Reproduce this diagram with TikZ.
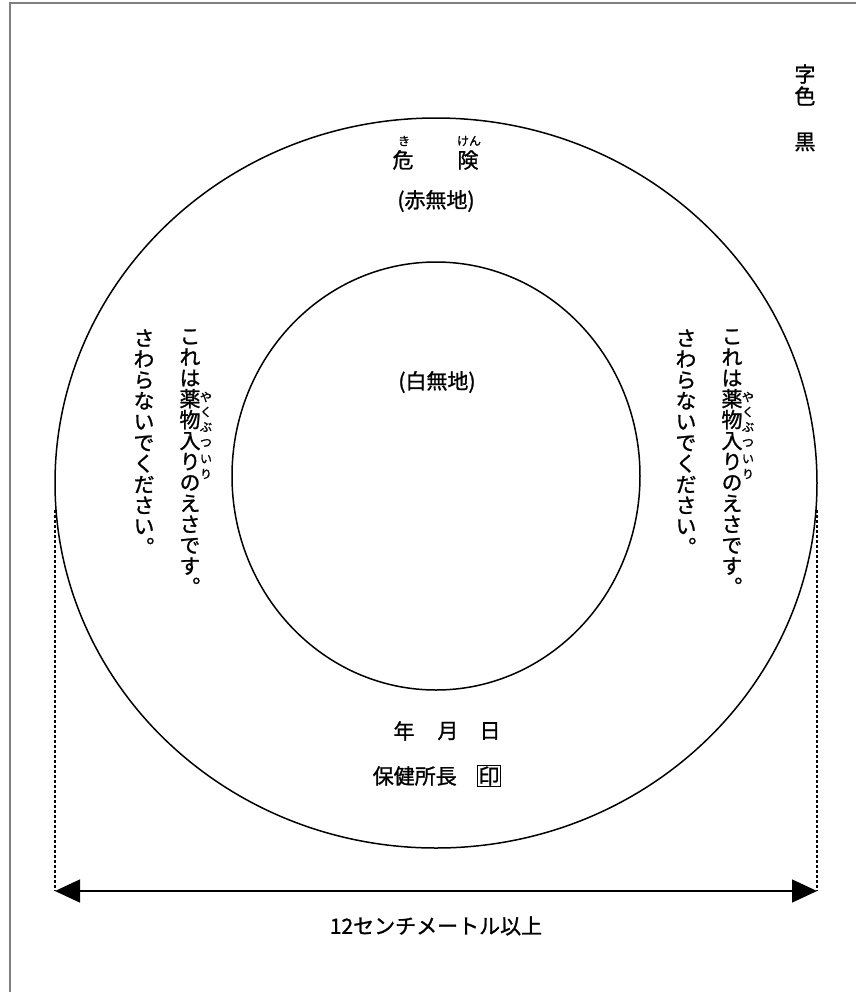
\documentclass[tikz,border=0pt]{standalone}
\usepackage{fontspec}
\setmainfont[FakeBold=1.2]{Noto Sans CJK JP}
\newfontfamily\tatefont[RawFeature=+vert,FakeBold=1.2]{Noto Sans CJK JP}
\usetikzlibrary{arrows.meta}
\tikzset{
  moji/.style={font=\fontsize{10.5}{10.5}\selectfont,inner sep=0pt},
  tate/.style={font=\tatefont\fontsize{10.5}{10.5}\selectfont,inner sep=0pt,anchor=base},
  furi/.style={font=\fontsize{6}{6}\selectfont,inner sep=0pt},
  yajiri/.style={{Triangle[length=12.5pt,width=11.5pt]}-{Triangle[length=12.5pt,width=11.5pt]}},
}

\begin{document}
\begin{tikzpicture}[x=0.5pt,y=-0.5pt,line width=0.75pt]
  \useasboundingbox (0,0) rectangle (856,992);
  % sheet edge
  \draw[gray,line width=1pt] (9.5,992) -- (9.5,3) -- (856,3);
  \draw (436,483) ellipse [x radius=381,y radius=365];
  \draw (436,476) ellipse [x radius=204,y radius=214];
  % colour note
  \node[moji] (ji) at (805,74) {字};
  \node[moji] (iro) at (805,96) {色};
  \node[moji] (kuro) at (805,142) {黒};
  % outer ring
  \node[moji] (ki) at (403,160) {危};
  \node[moji] (ken) at (468,160) {険};
  \node[furi] (ki-furi) at (404,141) {き};
  \node[furi] (ken-furi) at (469,141) {けん};
  \node[moji] (akamuji) at (436,201) {(赤無地)};
  \node[moji] (shiromuji) at (437,382) {(白無地)};
  \node[moji] (nen) at (404,731) {年};
  \node[moji] (tsuki) at (448,731) {月};
  \node[moji] (hi) at (490,731) {日};
  \node[moji,anchor=west] (shochou) at (372,776) {保健所長};
  \node[moji,draw,inner sep=0.6pt,line width=0.5pt] (inkan) at (489,776) {印};
  % vertical text, left and right
  \foreach \bx/\side in {190/L,732/R} {
    \foreach \c [count=\i from 0] in {こ,れ,は,薬,物,入,り,の,え,さ,で,す,。}
      \node[tate] (\side a\i) at (\bx,{344+20.9*\i}) {\c};
    \foreach \c [count=\i from 0] in {さ,わ,ら,な,い,で,く,だ,さ,い,。}
      \node[tate] (\side b\i) at (\bx-46,{346+20.9*\i}) {\c};
    \foreach \c/\y [count=\i] in {や/397,く/412,ぶ/427,つ/443,い/459,り/474}
      \node[furi] (\side f\i) at (\bx+16,\y) {\c};
  }
  % width
  \coordinate (hidari-ue) at (55,510);
  \coordinate (migi-ue) at (817,510);
  \coordinate (hidari) at (55,891);
  \coordinate (migi) at (817,891);
  \draw[dash pattern=on 1.5pt off 1pt,line width=0.9pt] (hidari-ue) -- (hidari);
  \draw[dash pattern=on 1.5pt off 1pt,line width=0.9pt] (migi-ue) -- (migi);
  \draw[yajiri] (hidari) -- (migi);
  \node[moji] (haba) at (436,926) {12センチメートル以上};
\end{tikzpicture}
\end{document}
